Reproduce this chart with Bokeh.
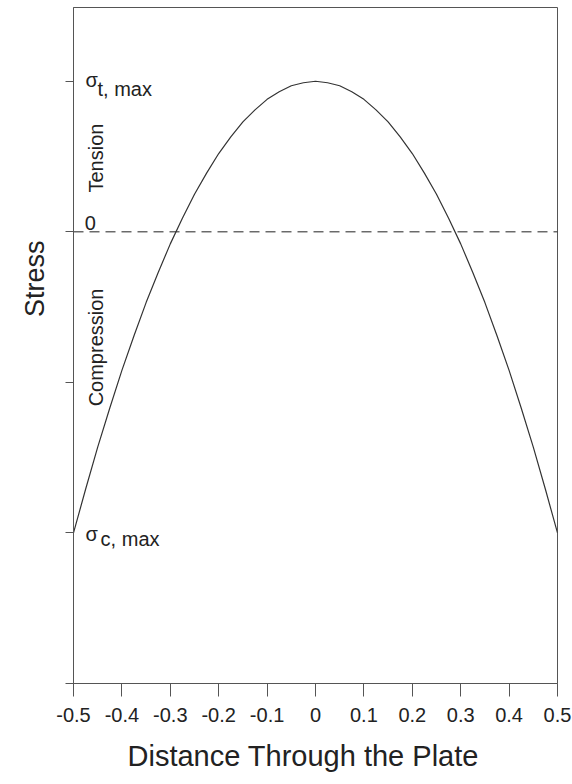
from bokeh.plotting import figure
from bokeh.models import Range1d, FixedTicker, Label, Title
from bokeh.embed import file_html
from bokeh.resources import INLINE
import math

# Data (stress profile through the plate thickness)
distance = [-0.5, -0.475, -0.45, -0.425, -0.4, -0.375, -0.35, -0.325, -0.3, -0.275,
            -0.25, -0.225, -0.2, -0.175, -0.15, -0.125, -0.1, -0.075, -0.05, -0.025,
            0.0, 0.025, 0.05, 0.075, 0.1, 0.125, 0.15, 0.175, 0.2, 0.225,
            0.25, 0.275, 0.3, 0.325, 0.35, 0.375, 0.4, 0.425, 0.45, 0.475, 0.5]
stress = [-2.0, -1.71, -1.43, -1.17, -0.92, -0.69, -0.47, -0.27, -0.08, 0.09,
          0.25, 0.39, 0.52, 0.63, 0.73, 0.81, 0.88, 0.93, 0.97, 0.99,
          1.0, 0.99, 0.97, 0.93, 0.88, 0.81, 0.73, 0.63, 0.52, 0.39,
          0.25, 0.09, -0.08, -0.27, -0.47, -0.69, -0.92, -1.17, -1.43, -1.71, -2.0]

x_ticks = [-0.5, -0.4, -0.3, -0.2, -0.1, 0.0, 0.1, 0.2, 0.3, 0.4, 0.5]
x_tick_labels = ["-0.5", "-0.4", "-0.3", "-0.2", "-0.1", "0", "0.1", "0.2", "0.3", "0.4", "0.5"]
y_ticks = [-3, -2, -1, 0, 1]

FONT = "Liberation Sans"
AX = "#555555"

p = figure(width=572, height=784, output_backend="svg", toolbar_location=None,
           x_range=Range1d(-0.5, 0.5), y_range=Range1d(-3.0, 1.49),
           min_border_left=73, min_border_right=15, min_border_top=7, min_border_bottom=99)
p.grid.visible = False
p.outline_line_color = AX
p.outline_line_width = 1
p.background_fill_color = "white"
p.border_fill_color = "white"

# zero line
p.line(x=[x_ticks[0], x_ticks[-1]], y=[0, 0], line_color="#222222", line_width=1,
       line_dash="10 6")
# stress curve
p.line(x=distance, y=stress, line_color="#333333", line_width=1.2)

xa = p.xaxis[0]
xa.ticker = FixedTicker(ticks=x_ticks)
xa.major_label_overrides = {t: l for t, l in zip(x_ticks, x_tick_labels)}
xa.major_tick_out = 13
xa.major_tick_in = 0
xa.minor_tick_line_color = None
xa.axis_line_color = AX
xa.major_tick_line_color = AX
xa.major_label_text_font = FONT
xa.major_label_text_font_size = "20px"
xa.major_label_text_color = "#222222"
xa.major_label_standoff = 11

ya = p.yaxis[0]
ya.ticker = FixedTicker(ticks=y_ticks)
ya.major_label_overrides = {t: "" for t in y_ticks}
ya.major_tick_out = 8
ya.major_tick_in = 0
ya.minor_tick_line_color = None
ya.axis_line_color = AX
ya.major_tick_line_color = AX
ya.major_label_text_font_size = "1px"

# axis titles, placed where the reference has them
p.add_layout(Title(text="Stress", align="right", offset=233, text_font=FONT,
                   text_font_size="27px", text_font_style="normal",
                   text_color="#222222", standoff=32), "left")
p.add_layout(Title(text="Distance Through the Plate", align="left", offset=54,
                   text_font=FONT, text_font_size="29px", text_font_style="normal",
                   text_color="#222222", standoff=26), "below")

def lab(x, y, t, size, **kw):
    p.add_layout(Label(x=x, y=y, text=t, text_font=FONT, text_font_size=size,
                       text_color="#222222", text_baseline="middle", **kw))

lab(-0.475, 1.006, "σ", "20px")
lab(-0.4504, 0.951, "t, max", "20px")
lab(-0.475, -2.006, "σ", "20px")
lab(-0.444, -2.042, "c, max", "20px")
lab(-0.477, 0.06, "0", "20px")
lab(-0.4545, 0.49, "Tension", "20px", text_align="center", angle=math.pi / 2)
lab(-0.4525, -0.768, "Compression", "20px", text_align="center", angle=math.pi / 2)

open("out.html", "w").write(file_html(p, INLINE))
